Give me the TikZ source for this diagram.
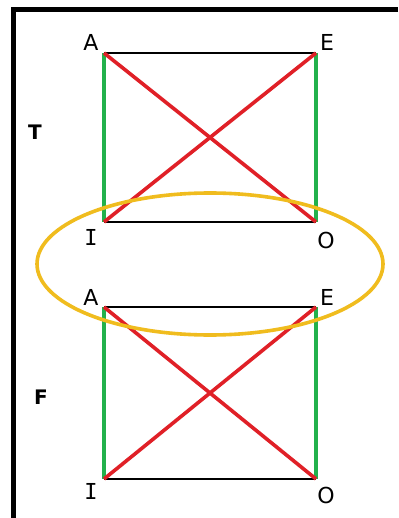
\documentclass[tikz,border=0pt]{standalone}
\usepackage{fontspec}
\setmainfont{DejaVu Sans}
\newfontfamily\lblI{DejaVu Sans Mono}
\definecolor{gline}{HTML}{22B14C}
\definecolor{rline}{HTML}{E02027}
\definecolor{yline}{HTML}{F0BC1E}
\begin{document}
\begin{tikzpicture}[x=1pt,y=-1pt,
  corner/.style={font=\fontsize{22}{22}\selectfont, inner sep=0pt},
  side/.style={font=\fontsize{20}{20}\selectfont\bfseries, inner sep=0pt},
  hline/.style={draw=black, line width=2.2pt},
  vline/.style={draw=gline, line width=3.6pt},
  diag/.style={draw=rline, line width=3.6pt},
  frame/.style={draw=black, line width=5pt},
  oval/.style={draw=yline, line width=3.6pt}]
\useasboundingbox (0,0) rectangle (398,518);
\fill[white] (0,0) rectangle (398,518);
% frame
\coordinate (fc) at (13.5,9.5);
\coordinate (fr) at (398,9.5);
\coordinate (fb) at (13.5,518);
\draw[frame] (fr) -- (fc) -- (fb);
% top square
\coordinate (A1) at (104,53);
\coordinate (E1) at (316,53);
\coordinate (I1) at (104,222);
\coordinate (O1) at (316,222);
% bottom square
\coordinate (A2) at (104,307);
\coordinate (E2) at (316,307);
\coordinate (I2) at (104,479);
\coordinate (O2) at (316,479);
\draw[hline] (A1) -- (E1);
\draw[hline] (I1) -- (O1);
\draw[hline] (A2) -- (E2);
\draw[hline] (I2) -- (O2);
\draw[vline] (A1) -- (I1);
\draw[vline] (E1) -- (O1);
\draw[vline] (A2) -- (I2);
\draw[vline] (E2) -- (O2);
\draw[diag] (A1) -- (O1);
\draw[diag] (E1) -- (I1);
\draw[diag] (A2) -- (O2);
\draw[diag] (E2) -- (I2);
% labels
\node[corner] (lA1) at (91,42) {A};
\node[corner] (lE1) at (327,42) {E};
\node[corner] (lI1) at (91,237) {\lblI I};
\node[corner] (lO1) at (326,240) {O};
\node[corner] (lA2) at (91,297) {A};
\node[corner] (lE2) at (327,297) {E};
\node[corner] (lI2) at (91,491) {\lblI I};
\node[corner] (lO2) at (326,495) {O};
\node[side] (T) at (35,132) {T};
\node[side] (F) at (41,397) {F};
% ellipse
\coordinate (ec) at (210,264);
\draw[oval] (ec) ellipse [x radius=173, y radius=71];
\end{tikzpicture}
\end{document}
